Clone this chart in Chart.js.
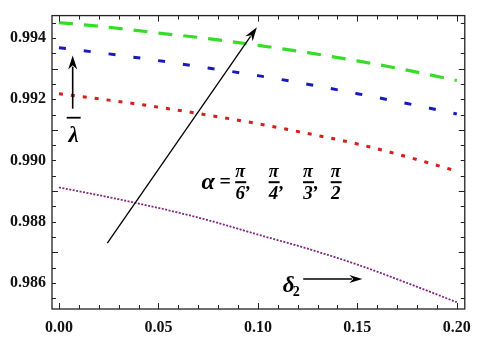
<!DOCTYPE html>
<html>
<head>
<meta charset="utf-8">
<script src="https://cdn.jsdelivr.net/npm/chart.js@4/dist/chart.umd.min.js"></script>
<style>
  html, body { margin: 0; padding: 0; background: #fff; }
  #wrap { width: 480px; height: 338px; }
</style>
</head>
<body>
<div id="wrap"><canvas id="chart" width="480" height="338"></canvas></div>
<script>
const delta2 = [0, 0.025, 0.05, 0.075, 0.1, 0.125, 0.15, 0.175, 0.2];
const lambdaPi2 = [0.99450, 0.99435, 0.99416, 0.99398, 0.99376, 0.99352, 0.99325, 0.99295, 0.99261];
const lambdaPi3 = [0.99368, 0.99348, 0.99326, 0.99302, 0.99277, 0.99249, 0.99218, 0.99186, 0.99152];
const lambdaPi4 = [0.99218, 0.99197, 0.99174, 0.99148, 0.99120, 0.99088, 0.99054, 0.99012, 0.98965];
const lambdaPi6 = [0.98912, 0.98880, 0.98845, 0.98805, 0.98758, 0.98712, 0.98660, 0.98600, 0.98537];
const xTicks = [0, 0.05, 0.1, 0.15, 0.2];
const yTicks = [0.986, 0.988, 0.990, 0.992, 0.994];

const serif = "'Liberation Serif', 'Times New Roman', serif";

function toPoints(values) {
  return delta2.map((d, i) => ({ x: d, y: values[i] }));
}

function makeSeries(label, values, color, width, dash) {
  return {
    label: label,
    data: toPoints(values),
    borderColor: color,
    borderWidth: width,
    borderDash: dash,
    pointRadius: 0,
    fill: false,
    cubicInterpolationMode: 'monotone',
  };
}

// frame with inward ticks on all four sides, like the original plot
const framePlugin = {
  id: 'frame',
  afterDatasetsDraw(chart) {
    const { ctx, chartArea: a, scales } = chart;
    ctx.save();
    ctx.strokeStyle = '#222';
    ctx.lineWidth = 1.3;
    ctx.strokeRect(a.left, a.top, a.right - a.left, a.bottom - a.top);
    ctx.lineWidth = 1;
    for (let i = 0; i <= 20; i++) {
      const px = Math.round(scales.x.getPixelForValue(i / 100)) + 0.5;
      const len = i % 5 === 0 ? 6 : 4;
      ctx.beginPath();
      ctx.moveTo(px, a.bottom); ctx.lineTo(px, a.bottom - len);
      ctx.moveTo(px, a.top); ctx.lineTo(px, a.top + len);
      ctx.stroke();
    }
    for (let i = 0; i <= 18; i++) {
      const v = 0.9855 + i * 0.0005;
      const py = Math.round(scales.y.getPixelForValue(v)) + 0.5;
      if (py < a.top || py > a.bottom) continue;
      const len = (i + 1) % 4 === 0 ? 6 : 4;
      ctx.beginPath();
      ctx.moveTo(a.left, py); ctx.lineTo(a.left + len, py);
      ctx.moveTo(a.right, py); ctx.lineTo(a.right - len, py);
      ctx.stroke();
    }
    ctx.restore();
  }
};

function arrow(ctx, x1, y1, x2, y2, head, width) {
  const ang = Math.atan2(y2 - y1, x2 - x1);
  ctx.beginPath();
  ctx.moveTo(x1, y1);
  ctx.lineTo(x2 - Math.cos(ang) * head * 0.8, y2 - Math.sin(ang) * head * 0.8);
  ctx.stroke();
  ctx.beginPath();
  ctx.moveTo(x2, y2);
  ctx.lineTo(x2 - head * Math.cos(ang) + width * Math.sin(ang), y2 - head * Math.sin(ang) - width * Math.cos(ang));
  ctx.lineTo(x2 - head * 0.7 * Math.cos(ang), y2 - head * 0.7 * Math.sin(ang));
  ctx.lineTo(x2 - head * Math.cos(ang) - width * Math.sin(ang), y2 - head * Math.sin(ang) + width * Math.cos(ang));
  ctx.closePath();
  ctx.fill();
}

function fraction(ctx, cx, cy, den) {
  ctx.textAlign = 'center';
  ctx.textBaseline = 'alphabetic';
  ctx.font = 'italic bold 18px ' + serif;
  ctx.fillText('\u03C0', cx, cy - 5);
  ctx.fillRect(cx - 5, cy - 1, 11, 2);
  ctx.font = 'italic bold 19px ' + serif;
  ctx.fillText(den, cx, cy + 17);
}

const annotationPlugin = {
  id: 'notes',
  afterDraw(chart) {
    const { ctx, scales } = chart;
    const X = v => scales.x.getPixelForValue(v);
    const Y = v => scales.y.getPixelForValue(v);
    ctx.save();
    ctx.strokeStyle = '#000';
    ctx.fillStyle = '#000';
    ctx.lineWidth = 1.3;

    // long arrow across the curves
    arrow(ctx, X(0.0243), Y(0.98730), X(0.0995), Y(0.99435), 14, 4.5);
    // small vertical arrow by lambda
    ctx.lineWidth = 1.6;
    arrow(ctx, X(0.0069), Y(0.99169), X(0.0069), Y(0.99343), 14, 4.5);
    // delta_2 arrow
    arrow(ctx, X(0.1228), Y(0.98613), X(0.1525), Y(0.98613), 13, 4);

    // lambda with overbar
    const lx = X(0.0074);
    const ly = Y(0.99087);
    ctx.fillRect(lx - 7, ly - 17, 14, 1.8);
    ctx.font = 'italic bold 23px ' + serif;
    ctx.textAlign = 'center';
    ctx.textBaseline = 'alphabetic';
    ctx.fillText('\u03BB', lx, ly + 8);

    // delta_2
    const dx = X(0.1125);
    const dy = Y(0.98597);
    ctx.font = 'italic bold 23px ' + serif;
    ctx.textAlign = 'left';
    ctx.fillText('\u03B4', dx, dy + 8);
    ctx.font = 'bold 14px ' + serif;
    ctx.fillText('2', dx + 10, dy + 12);

    // alpha = pi/6, pi/4, pi/3, pi/2
    const ay = Y(0.98929);
    ctx.font = 'italic bold 24px ' + serif;
    ctx.textAlign = 'left';
    ctx.fillText('\u03B1', X(0.0716), ay + 7);
    ctx.font = 'bold 20px ' + serif;
    ctx.fillText('=', X(0.0716) + 18, ay + 6);
    const fx = [0.0911, 0.1079, 0.1252, 0.1391];
    const dens = ['6', '4', '3', '2'];
    fx.forEach((v, i) => {
      fraction(ctx, X(v), ay, dens[i]);
      if (i < 3) {
        ctx.font = 'italic bold 19px ' + serif;
        ctx.textAlign = 'left';
        ctx.fillText(',', X(v) + 6, ay + 7);
      }
    });
    ctx.restore();
  }
};

new Chart(document.getElementById('chart'), {
  type: 'line',
  data: {
    datasets: [
      makeSeries('\u03C0/2', lambdaPi2, 'rgb(55, 220, 40)', 3.2, [14, 11]),
      makeSeries('\u03C0/3', lambdaPi3, 'rgb(25, 25, 190)', 3, [7, 18]),
      makeSeries('\u03C0/4', lambdaPi4, 'rgb(215, 30, 30)', 3, [4, 8]),
      makeSeries('\u03C0/6', lambdaPi6, 'rgb(130, 40, 130)', 1.8, [2, 1.5]),
    ],
  },
  options: {
    responsive: false,
    animation: false,
    events: [],
    layout: { padding: { left: 0, right: 9, top: 6, bottom: 0 } },
    plugins: { legend: { display: false }, tooltip: { enabled: false } },
    scales: {
      x: {
        type: 'linear',
        min: -0.0035,
        max: 0.204,
        afterBuildTicks: s => { s.ticks = xTicks.map(v => ({ value: v })); },
        afterFit: s => { s.height = 29; },
        grid: { display: false, drawTicks: false },
        border: { display: false },
        ticks: {
          padding: 9,
          color: '#111',
          font: { family: serif, size: 16, weight: 'bold' },
          callback: v => Number(v).toFixed(2),
        },
      },
      y: {
        type: 'linear',
        min: 0.98515,
        max: 0.99473,
        afterBuildTicks: s => { s.ticks = yTicks.map(v => ({ value: v })); },
        afterFit: s => { s.width = 52; },
        grid: { display: false, drawTicks: false },
        border: { display: false },
        ticks: {
          padding: 6,
          color: '#111',
          font: { family: serif, size: 16, weight: 'bold' },
          callback: v => Number(v).toFixed(3),
        },
      },
    },
  },
  plugins: [framePlugin, annotationPlugin],
});
</script>
</body>
</html>
